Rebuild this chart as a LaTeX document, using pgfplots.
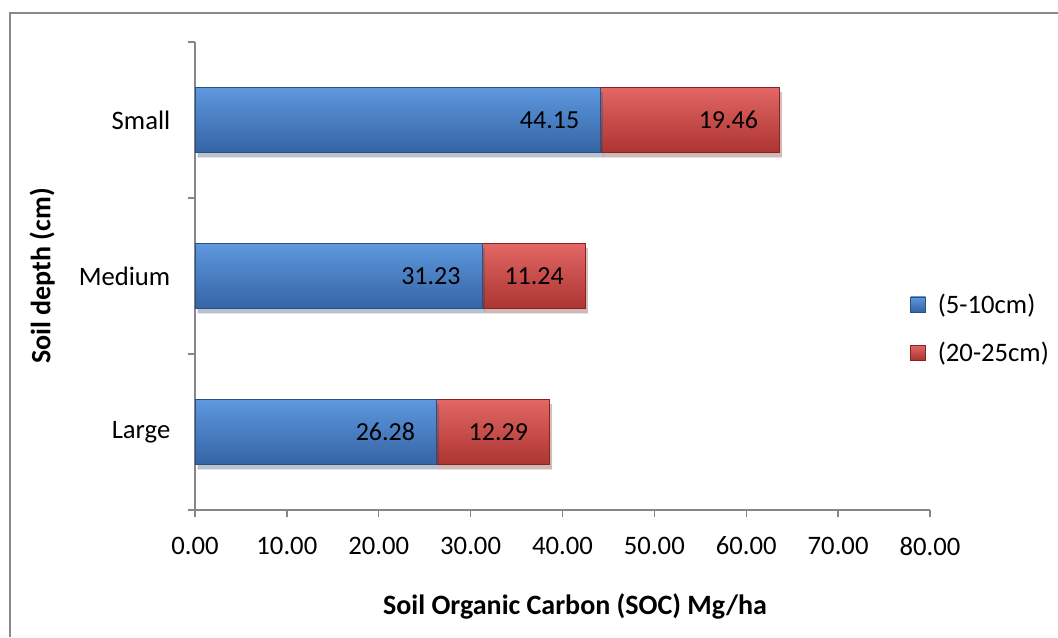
\documentclass[border=0pt]{standalone}
\usepackage{pgfplots}
\pgfplotsset{compat=1.18}
\usepackage{fontspec}
\setmainfont{Carlito}

\definecolor{axisgray}{HTML}{868686}
\definecolor{framegray}{HTML}{8A8A8A}
\definecolor{blueTop}{HTML}{5E98DE}
\definecolor{blueMid}{HTML}{4079C2}
\definecolor{blueBot}{HTML}{3464A5}
\definecolor{blueEdge}{HTML}{2B4F80}
\definecolor{redTop}{HTML}{E26765}
\definecolor{redMid}{HTML}{CC4442}
\definecolor{redBot}{HTML}{AC3431}
\definecolor{redEdge}{HTML}{862422}

\newcommand\chartfont{\fontsize{20}{24}\selectfont}
\newcommand\labfont{\fontsize{19.5}{23.4}\selectfont}
\newcommand\titlefont{\fontsize{21}{25}\selectfont}

\pgfplotsset{
  % geometry shared by the three overlaid axes (one per category)
  socbase/.style={
    at={(0,0)}, anchor=south west,
    scale only axis,
    width=551.25pt, height=351pt,
    xbar stacked,
    bar width=48.75pt,
    xmin=0, xmax=80,
    ymin=-0.5, ymax=2.5,
  },
  barshadow/.style={
    preaction={fill=black, fill opacity=0.17, draw=none,
      transform canvas={shift={(2pt,-3.5pt)}}},
  },
  layerA/.style={
    barshadow,
    top color=blueTop, middle color=blueMid, bottom color=blueBot,
    draw=blueEdge, line width=0.5pt,
  },
  layerB/.style={
    barshadow,
    top color=redTop, middle color=redMid, bottom color=redBot,
    draw=redEdge, line width=0.5pt,
  },
}
\tikzset{barlab/.style={anchor=east, xshift=-12.5pt, font=\labfont, text=black}}

\begin{document}
\begin{tikzpicture}
% axis, ticks, labels, legend and the "Large" bar
\begin{axis}[
  socbase,
  xtick={0,10,...,80},
  ytick={-0.5,0.5,1.5,2.5},
  yticklabels={},
  extra y ticks={0,1,2},
  extra y tick labels={Large,Medium,Small},
  extra y tick style={major tick length=0pt, tick style={draw=none},
    yticklabel style={xshift=-15pt}},
  axis x line*=bottom,
  axis y line*=left,
  axis line style={axisgray, line width=1.1pt},
  tick style={axisgray, line width=1.1pt},
  tick align=outside,
  major tick length=5.6pt,
  /pgf/number format/assume math mode=true,
  xticklabel={\pgfmathprintnumber[fixed,zerofill,precision=2]{\tick}},
  tick label style={font=\chartfont, black},
  xticklabel style={yshift=-11pt},
  xlabel={\textbf{Soil Organic Carbon (SOC) Mg/ha}},
  ylabel={\textbf{Soil depth (cm)}},
  label style={font=\titlefont, black},
  xlabel style={at={(axis description cs:0.517,-0.207)}, anchor=center},
  ylabel style={at={(axis description cs:-0.208,0.5)}, anchor=center},
  legend style={draw=none, fill=none, at={(0.973,0.388)}, anchor=west,
    font=\chartfont, row sep=16pt, inner sep=0pt,
    /tikz/every odd column/.append style={column sep=7pt}},
  legend cell align=left,
]
\addlegendimage{legend image code/.code={\shade[top color=blueTop, bottom color=blueBot, draw=blueEdge]
      (0pt,-5.6pt) rectangle (11.2pt,5.6pt);}}
\addlegendentry{(5-10cm)}
\addlegendimage{legend image code/.code={\shade[top color=redTop, bottom color=redBot, draw=redEdge]
      (0pt,-5.6pt) rectangle (11.2pt,5.6pt);}}
\addlegendentry{(20-25cm)}
\addplot[layerA, forget plot] coordinates {(26.28,0)};
\addplot[layerB, forget plot] coordinates {(12.29,0)};
\coordinate (LA) at (axis cs:26.28,0);
\coordinate (LB) at (axis cs:38.57,0);
\end{axis}
% Medium
\begin{axis}[socbase, hide axis]
\addplot[layerA] coordinates {(31.23,1)};
\addplot[layerB] coordinates {(11.24,1)};
\coordinate (MA) at (axis cs:31.23,1);
\coordinate (MB) at (axis cs:42.47,1);
\end{axis}
% Small
\begin{axis}[socbase, hide axis]
\addplot[layerA] coordinates {(44.15,2)};
\addplot[layerB] coordinates {(19.46,2)};
\coordinate (SA) at (axis cs:44.15,2);
\coordinate (SB) at (axis cs:63.61,2);
\end{axis}
% value labels, set inside the end of each segment
\node[barlab] at (LA) {26.28};
\node[barlab] at (LB) {12.29};
\node[barlab] at (MA) {31.23};
\node[barlab] at (MB) {11.24};
\node[barlab] at (SA) {44.15};
\node[barlab] at (SB) {19.46};
% chart area frame
\draw[framegray, line width=1.5pt] (-139.1pt,-95.25pt) -- (-139.1pt,372.75pt) -- (647.25pt,372.75pt);
\pgfresetboundingbox
\path[use as bounding box] (-146.25pt,-95.25pt) rectangle (647.25pt,382.5pt);
\end{tikzpicture}
\end{document}
